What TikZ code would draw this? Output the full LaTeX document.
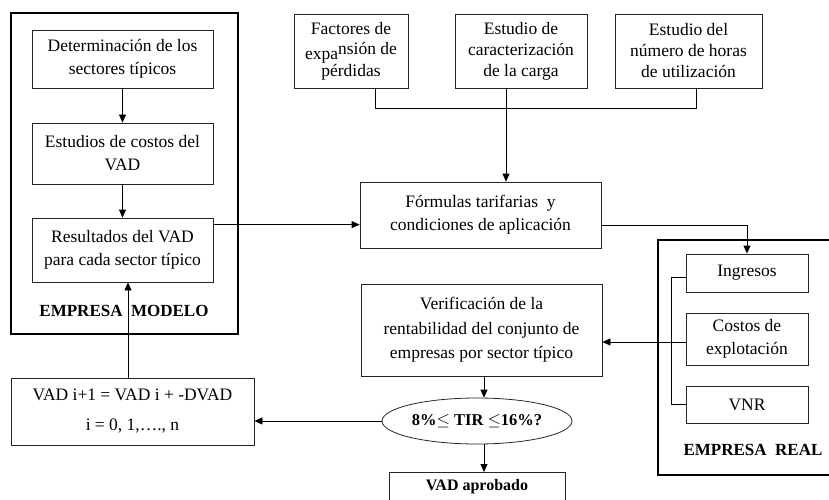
\documentclass[tikz,border=0pt]{standalone}
\usepackage{fontspec}
\setmainfont{Liberation Serif}
\usetikzlibrary{arrows.meta,shapes.geometric,calc}
\begin{document}
\begin{tikzpicture}[x=1pt,y=-1pt,
  box/.style={draw=black!85,line width=0.8pt,rectangle,align=center,inner sep=0pt,font=\fontsize{17.5}{23}\selectfont},
  frame/.style={draw=black,line width=2.8pt,rectangle,inner sep=0pt},
  arr/.style={-{Triangle[length=8pt,width=7pt]},line width=0.8pt},
  ln/.style={line width=0.8pt},
  lbl/.style={font=\bfseries\fontsize{17}{19}\selectfont}]
\clip (0,0) rectangle (829,500);
\useasboundingbox (0,0) rectangle (829,500);
% containers
\node[frame,minimum width=227pt,minimum height=321pt] (modelo) at (124.5,173.5) {};
\node[frame,minimum width=182pt,minimum height=235pt] (real) at (749,357.5) {};
\node[lbl] (lmod) at (124,311) {EMPRESA\ \ MODELO};
\node[lbl] (lreal) at (753,450) {EMPRESA\ \ REAL};
% left column
\node[box,minimum width=181pt,minimum height=58pt] (b1) at (122.5,59) {Determinación de los\\sectores típicos};
\node[box,minimum width=181pt,minimum height=61pt] (b2) at (122.5,153.5) {Estudios de costos del\\VAD};
\node[box,minimum width=181pt,minimum height=64pt] (b3) at (122.5,250) {Resultados del VAD\\para cada sector típico};
% top row
\node[box,minimum width=114pt,minimum height=74pt,font=\fontsize{17.5}{20}\selectfont] (fac) at (351,51) {Factores de\\\raisebox{-5pt}{expa}nsión de\\pérdidas};
\node[box,minimum width=132pt,minimum height=74pt,font=\fontsize{17.5}{21}\selectfont] (car) at (521,51) {Estudio de\\caracterización\\de la carga};
\node[box,minimum width=147pt,minimum height=74pt,font=\fontsize{17.5}{21}\selectfont] (num) at (688.5,51) {Estudio del\\número de horas\\de utilización};
% center
\node[box,minimum width=241pt,minimum height=66pt] (form) at (480.5,215) {Fórmulas tarifarias\ \ y\\condiciones de aplicación};
\node[box,minimum width=241pt,minimum height=92pt,font=\fontsize{17.5}{24.5}\selectfont] (ver) at (481.5,330) {Verificación de la\\rentabilidad del conjunto de\\empresas por sector típico};
\node[draw=black!85,line width=0.8pt,ellipse,minimum width=190pt,minimum height=46pt,inner sep=0pt,font=\bfseries\fontsize{16.5}{18}\selectfont] (tir) at (477,421) {8\%$\leq$ TIR $\leq$16\%?};
\node[box,minimum width=176pt,minimum height=34pt,anchor=north,font=\bfseries\fontsize{16}{18}\selectfont,text depth=0pt] (apr) at (477,472) {\raisebox{8pt}{VAD aprobado}};
\node[box,minimum width=243pt,minimum height=67pt] (vad) at (132.5,411.5) {VAD i+1 = VAD i + -DVAD\\[7pt]i = 0, 1,…., n};
% right column
\node[box,minimum width=122pt,minimum height=38pt] (ing) at (747,273) {Ingresos};
\node[box,minimum width=122pt,minimum height=52pt] (cos) at (747,339) {Costos de\\explotación};
\node[box,minimum width=122pt,minimum height=37pt] (vnr) at (747,404.5) {VNR};
% connectors
\draw[arr] (b1) -- (b2);
\draw[arr] (b2) -- (b3);
\draw[arr] ([yshift=-7pt]b3.north east) -- ([yshift=-7pt]b3.north east -| form.west);
\draw[ln] ([xshift=24pt]fac.south) -- ++(0,20) -| ([xshift=7.5pt]num.south);
\draw[arr] ([xshift=-15pt]car.south) -- ([xshift=-15pt]car.south |- form.north);
\draw[arr] ([yshift=-10pt]form.east) -| (ing.north);
\draw[ln] ([yshift=-4pt]ing.west) -- ++(-14,0) |- (vnr.west);
\draw[arr] ([yshift=-3pt]cos.west) -- ([yshift=-3pt]cos.west -| ver.east);
\draw[arr] ([xshift=2.5pt]ver.south) -- ([xshift=2.5pt]ver.south |- tir.north);
\draw[arr] ([xshift=7pt]tir.south) -- ([xshift=7pt]tir.south |- apr.north);
\draw[arr] (tir.west) -- (tir.west -| vad.east);
\draw[arr] ([xshift=-4.5pt]vad.north) -- ([xshift=-4.5pt]vad.north |- b3.south);
\end{tikzpicture}
\end{document}
